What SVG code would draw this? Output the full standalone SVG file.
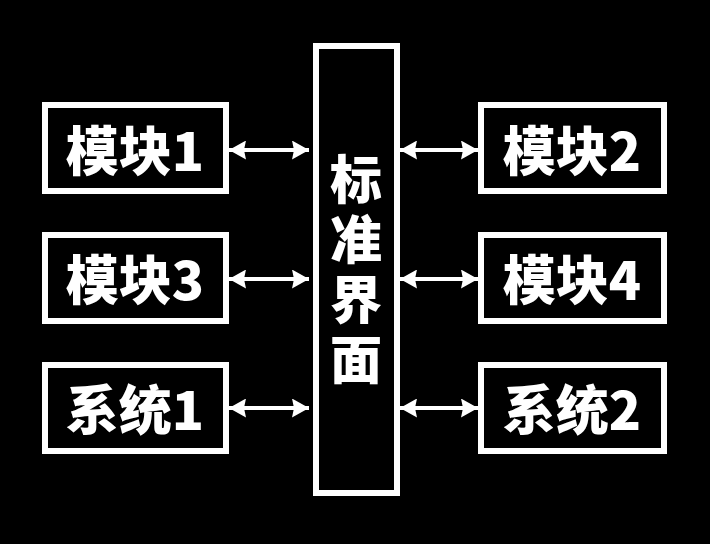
<svg xmlns="http://www.w3.org/2000/svg" width="710" height="544" viewBox="0 0 710 544">
<defs>
<marker id="ah" viewBox="0 0 17 19" refX="17" refY="9.5" markerWidth="17" markerHeight="19" orient="auto-start-reverse" markerUnits="userSpaceOnUse">
<path d="M0,0 L17,9.5 L0,19 L2,9.5 Z" fill="#fff"/>
</marker>
</defs>
<style>
.box{fill:#000;stroke:#fff;stroke-width:6}
.t{fill:#fff;font-family:"Noto Sans CJK SC","Noto Sans",sans-serif;font-weight:900;font-size:53px;text-anchor:middle;dominant-baseline:central}
.v{fill:#fff;font-family:"Noto Sans CJK SC","Noto Sans",sans-serif;font-weight:900;font-size:52px;writing-mode:vertical-rl;letter-spacing:8px}
.c{stroke:#fff;stroke-width:4;fill:none;marker-start:url(#ah);marker-end:url(#ah)}
</style>
<rect width="710" height="544" fill="#000"/>
<g id="connectors">
<line class="c" x1="229" y1="150" x2="309" y2="150"/>
<line class="c" x1="229" y1="279" x2="309" y2="279"/>
<line class="c" x1="229" y1="408" x2="309" y2="408"/>
<line class="c" x1="400" y1="150" x2="478" y2="150"/>
<line class="c" x1="400" y1="279" x2="478" y2="279"/>
<line class="c" x1="400" y1="408" x2="478" y2="408"/>
</g>
<g id="center">
<rect class="box" x="316" y="46" width="81" height="447"/>
<text class="v" x="356" y="153">标准界面</text>
</g>
<g id="m1"><rect class="box" x="45" y="105" width="181" height="86"/><text class="t" x="135" y="148">模块1</text></g>
<g id="m3"><rect class="box" x="45" y="235" width="181" height="86"/><text class="t" x="135" y="277">模块3</text></g>
<g id="s1"><rect class="box" x="45" y="365" width="181" height="86"/><text class="t" x="135" y="407">系统1</text></g>
<g id="m2"><rect class="box" x="481" y="105" width="183" height="86"/><text class="t" x="572" y="148">模块2</text></g>
<g id="m4"><rect class="box" x="481" y="235" width="183" height="86"/><text class="t" x="572" y="277">模块4</text></g>
<g id="s2"><rect class="box" x="481" y="365" width="183" height="86"/><text class="t" x="572" y="407">系统2</text></g>
</svg>
